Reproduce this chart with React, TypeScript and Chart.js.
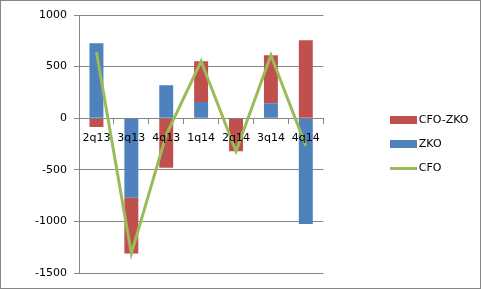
import { useEffect, useRef } from 'react';
import { Chart, registerables } from 'chart.js';

Chart.register(...registerables);

const categories = ['2q13', '3q13', '4q13', '1q14', '2q14', '3q14', '4q14'];
const zko = [727, -772, 320, 158, 0, 145, -1024];
const cfoMinusZko = [-85, -540, -481, 394, -320, 465, 756];
const cfo = [642, -1312, -161, 552, -320, 610, -268];
const yMin = -1500;
const yMax = 1000;
const yStep = 500;
const seriesLabels = ['ZKO', 'CFO-ZKO', 'CFO'];
const seriesColors = ['#4F81BD', '#C0504D', '#9BBB59'];
const legendOrder = [1, 0, 2];

const FONT = { family: "'DejaVu Sans', Verdana, sans-serif", size: 11 };
const GRID = '#868686';

function makeIcon(w: number, h: number, color: string) {
  const c = document.createElement('canvas');
  c.width = w;
  c.height = h;
  const ctx = c.getContext('2d')!;
  ctx.fillStyle = color;
  ctx.fillRect(0, 0, w, h);
  return c;
}

export default function App() {
  const ref = useRef<HTMLCanvasElement>(null);

  useEffect(() => {
    document.body.style.margin = '0';
    const icons = [
      makeIcon(27, 8, seriesColors[0]),
      makeIcon(27, 8, seriesColors[1]),
      makeIcon(27, 3, seriesColors[2]),
    ];
    const chart = new Chart(ref.current!, {
      type: 'bar',
      data: {
        labels: categories,
        datasets: [
          {
            type: 'bar',
            label: seriesLabels[0],
            data: zko,
            backgroundColor: seriesColors[0],
            stack: 'bars',
            barPercentage: 0.4,
            categoryPercentage: 1,
          },
          {
            type: 'bar',
            label: seriesLabels[1],
            data: cfoMinusZko,
            backgroundColor: seriesColors[1],
            stack: 'bars',
            barPercentage: 0.4,
            categoryPercentage: 1,
          },
          {
            type: 'line',
            label: seriesLabels[2],
            data: cfo,
            borderColor: seriesColors[2],
            backgroundColor: seriesColors[2],
            borderWidth: 3,
            pointRadius: 0,
            tension: 0,
            stack: 'cfo',
            order: -1,
          } as any,
        ],
      },
      options: {
        responsive: false,
        maintainAspectRatio: false,
        animation: false,
        layout: { padding: { top: 14, bottom: 15, left: 0, right: 1.5 } },
        plugins: {
          tooltip: { enabled: false },
          legend: {
            position: 'right',
            maxWidth: 200,
            labels: {
              usePointStyle: true,
              pointStyleWidth: 19,
              padding: 13,
              color: '#000',
              font: FONT,
              generateLabels: (ch: any) =>
                legendOrder.map((i) => ({
                  text: ch.data.datasets[i].label,
                  pointStyle: icons[i],
                  datasetIndex: i,
                  hidden: false,
                  fillStyle: seriesColors[i],
                  strokeStyle: seriesColors[i],
                  lineWidth: 0,
                  fontColor: '#000',
                })),
            },
          } as any,
        },
        scales: {
          x: {
            position: { y: 0 } as any,
            stacked: true,
            offset: true,
            grid: {
              display: true,
              drawOnChartArea: false,
              drawTicks: true,
              tickLength: 5,
              color: GRID,
              offset: true,
            },
            border: { display: true, color: GRID },
            ticks: { color: '#000', font: FONT, padding: 8, maxRotation: 0, z: 1 } as any,
          },
          y: {
            stacked: true,
            min: yMin,
            max: yMax,
            afterFit: (s: any) => {
              s.width = 78;
            },
            ticks: {
              stepSize: yStep,
              color: '#000',
              font: FONT,
              padding: 7,
              callback: (v: any) => String(v),
            },
            grid: { color: GRID, tickLength: 5, drawTicks: true },
            border: { display: true, color: GRID },
          },
          y2: {
            position: 'right',
            display: true,
            grid: { display: false },
            border: { display: false },
            ticks: { display: false },
            afterFit: (s: any) => {
              s.width = 58;
            },
          },
        },
      },
    });
    return () => chart.destroy();
  }, []);

  return (
    <div
      style={{
        width: 481,
        height: 289,
        boxSizing: 'border-box',
        border: '1px solid #868686',
        background: '#fff',
      }}
    >
      <canvas ref={ref} width={479} height={287} style={{ display: 'block', width: 479, height: 287 }} />
    </div>
  );
}
